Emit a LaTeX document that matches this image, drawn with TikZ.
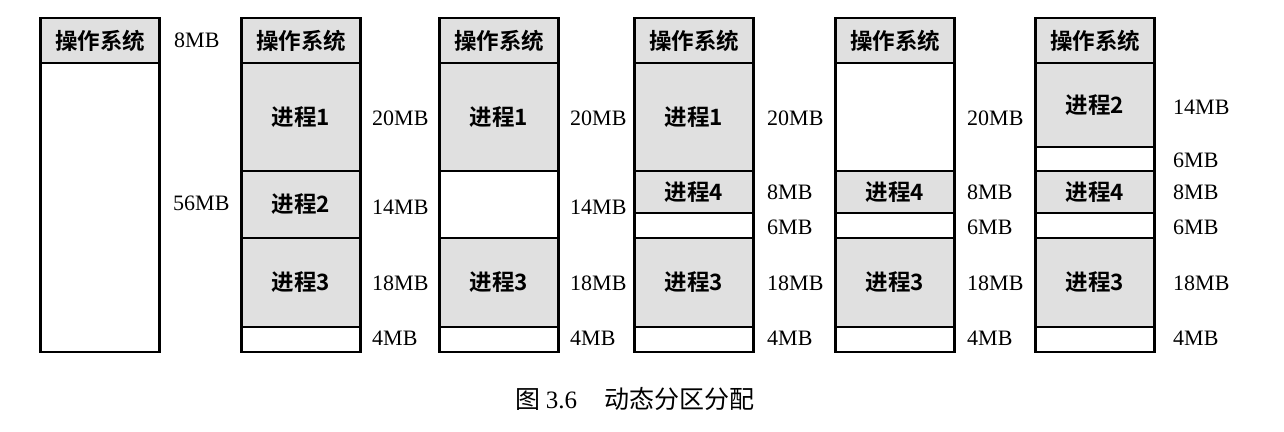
\documentclass[tikz,border=0pt]{standalone}
\usepackage{fontspec}
\setmainfont{Liberation Serif}
\newfontfamily\cjk{Noto Sans CJK SC}
\newfontfamily\cjkb{Noto Sans CJK SC Bold}
\begin{document}
\begin{tikzpicture}[x=1pt,y=-1pt,
  part/.style={draw, line width=2.4pt, minimum width=119pt, inner sep=0pt,
    font=\cjkb\fontsize{22.5}{22.5}\selectfont},
  used/.style={part, fill=gray!24},
  free/.style={part, fill=white},
  lab/.style={anchor=west, inner sep=0pt, font=\fontsize{22}{22}\selectfont},
]
\useasboundingbox (0,0) rectangle (1284,431);
% column 1
\node[used, minimum height=45pt] (a0) at (100,40.5) {操作系统};
\node[free, minimum height=289pt] (a1) at (100,207.5) {};
\node[lab] (al0) at (174,40) {8MB};
\node[lab] (al1) at (173,203) {56MB};
% column 2
\node[used, minimum height=45pt] (b0) at (301,40.5) {操作系统};
\node[used, minimum height=108pt] (b1) at (301,117) {进程1};
\node[used, minimum height=67pt] (b2) at (301,204.5) {进程2};
\node[used, minimum height=89pt] (b3) at (301,282.5) {进程3};
\node[free, minimum height=25pt] (b4) at (301,339.5) {};
\node[lab] (bl1) at (372,118) {20MB};
\node[lab] (bl2) at (372,207) {14MB};
\node[lab] (bl3) at (372,283) {18MB};
\node[lab] (bl4) at (372,338) {4MB};
% column 3
\node[used, minimum height=45pt] (c0) at (499,40.5) {操作系统};
\node[used, minimum height=108pt] (c1) at (499,117) {进程1};
\node[free, minimum height=67pt] (c2) at (499,204.5) {};
\node[used, minimum height=89pt] (c3) at (499,282.5) {进程3};
\node[free, minimum height=25pt] (c4) at (499,339.5) {};
\node[lab] (cl1) at (570,118) {20MB};
\node[lab] (cl2) at (570,207) {14MB};
\node[lab] (cl3) at (570,283) {18MB};
\node[lab] (cl4) at (570,338) {4MB};
% column 4
\node[used, minimum height=45pt] (d0) at (694,40.5) {操作系统};
\node[used, minimum height=108pt] (d1) at (694,117) {进程1};
\node[used, minimum height=42pt] (d2) at (694,192) {进程4};
\node[free, minimum height=25pt] (d3) at (694,225.5) {};
\node[used, minimum height=89pt] (d4) at (694,282.5) {进程3};
\node[free, minimum height=25pt] (d5) at (694,339.5) {};
\node[lab] (dl1) at (767,118) {20MB};
\node[lab] (dl2) at (767,192) {8MB};
\node[lab] (dl3) at (767,227) {6MB};
\node[lab] (dl4) at (767,283) {18MB};
\node[lab] (dl5) at (767,338) {4MB};
% column 5
\node[used, minimum height=45pt] (e0) at (895,40.5) {操作系统};
\node[free, minimum height=108pt] (e1) at (895,117) {};
\node[used, minimum height=42pt] (e2) at (895,192) {进程4};
\node[free, minimum height=25pt] (e3) at (895,225.5) {};
\node[used, minimum height=89pt] (e4) at (895,282.5) {进程3};
\node[free, minimum height=25pt] (e5) at (895,339.5) {};
\node[lab] (el1) at (967,118) {20MB};
\node[lab] (el2) at (967,192) {8MB};
\node[lab] (el3) at (967,227) {6MB};
\node[lab] (el4) at (967,283) {18MB};
\node[lab] (el5) at (967,338) {4MB};
% column 6
\node[used, minimum height=45pt] (f0) at (1095,40.5) {操作系统};
\node[used, minimum height=84pt] (f1) at (1095,105) {进程2};
\node[free, minimum height=24pt] (f2) at (1095,159) {};
\node[used, minimum height=42pt] (f3) at (1095,192) {进程4};
\node[free, minimum height=25pt] (f4) at (1095,225.5) {};
\node[used, minimum height=89pt] (f5) at (1095,282.5) {进程3};
\node[free, minimum height=25pt] (f6) at (1095,339.5) {};
\node[lab] (fl1) at (1173,107) {14MB};
\node[lab] (fl2) at (1173,160) {6MB};
\node[lab] (fl3) at (1173,192) {8MB};
\node[lab] (fl4) at (1173,227) {6MB};
\node[lab] (fl5) at (1173,283) {18MB};
\node[lab] (fl6) at (1173,338) {4MB};
% caption
\node[inner sep=0pt, font=\cjk\fontsize{25}{25}\selectfont] (cap) at (635,399) {图 {\rmfamily 3.6}\hspace{1.1em}动态分区分配};
\end{tikzpicture}
\end{document}
